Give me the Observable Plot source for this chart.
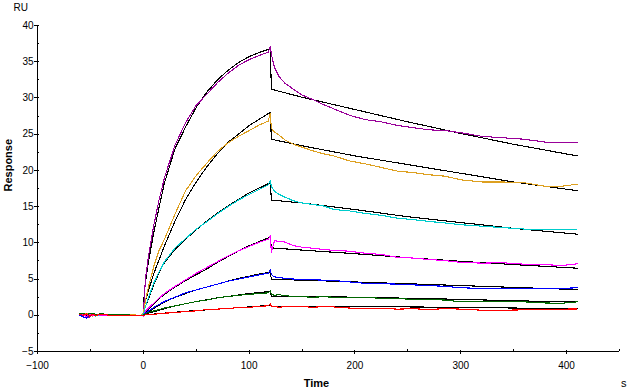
<!DOCTYPE html>
<html>
<head>
<meta charset="utf-8">
<script src="https://cdn.jsdelivr.net/npm/d3@7"></script>
<script src="https://cdn.jsdelivr.net/npm/@observablehq/plot@0.6"></script>
<style>
  html, body { margin: 0; padding: 0; background: #fff; }
</style>
</head>
<body>
<div id="chart"></div>
<script>
// ---- time grids (s) ----
const tData = [-60,-57,-54,-51,-48,-45,-40,-30,-20,-10,-2,0,
  2,5,10,15,20,30,40,50,60,70,80,90,100,110,118,120,
  121,124,128,134,142,150,160,170,180,195,210,225,240,255,270,285,300,320,340,360,380,395,410];
const tFit = [-60,0,1,5,10,15,20,30,40,50,60,70,80,90,100,110,120,121,150,200,250,300,350,410];

// ---- measured responses (RU) ----
const purpleObs = [0.1,0.3,-0.1,-0.3,0.2,0.0,0.1,0.0,0.05,0.0,0.0,0.2,
  5.0,8.3,12.5,16.0,19.0,23.5,26.6,29.0,30.5,32.1,33.4,34.5,35.3,35.9,36.3,37.1,
  36.0,34.2,33.0,32.0,31.2,30.4,29.8,29.1,28.5,27.6,27.0,26.7,26.2,25.9,25.6,25.5,25.2,24.7,24.5,24.3,23.9,23.8,23.9];
const orangeObs = [0.2,0.0,0.3,0.1,-0.1,0.1,0.0,0.1,0.0,0.05,0.0,0.3,
  2.0,4.0,6.8,9.0,10.5,14.0,17.2,19.3,21.0,22.6,23.8,24.7,25.5,26.3,26.8,27.9,
  25.8,25.3,24.9,24.2,23.6,23.2,22.7,22.3,22.0,21.3,20.9,20.4,19.9,19.7,19.4,19.2,18.7,18.4,18.4,18.3,17.8,17.8,18.1];
const cyanObs = [0.1,0.0,0.2,0.0,0.1,-0.1,0.1,0.0,0.1,0.0,0.0,0.1,
  1.2,2.5,4.5,6.0,7.4,9.3,10.6,11.9,12.9,14.0,15.0,15.9,16.7,17.4,18.0,18.6,
  17.8,17.1,16.7,16.3,15.8,15.5,15.3,15.1,14.6,14.4,14.05,13.8,13.4,13.2,12.95,12.75,12.5,12.3,12.1,11.9,11.8,11.8,11.9];
const magentaObs = [0.0,0.2,-0.2,0.1,0.0,0.1,0.0,0.0,0.1,0.0,0.0,-0.1,
  0.6,1.0,1.7,2.4,3.0,4.0,4.9,5.8,6.6,7.4,8.2,8.9,9.5,10.1,10.5,11.0,
  8.7,10.3,10.2,10.1,9.6,9.4,9.25,9.1,8.95,8.85,8.55,8.4,8.0,7.9,7.7,7.55,7.3,7.2,7.25,7.05,7.0,6.85,7.1];
const blueObs = [0.0,-0.2,-0.4,-0.1,0.1,0.0,0.1,0.0,-0.05,0.0,0.0,0.0,
  0.3,0.6,1.1,1.5,1.9,2.5,3.1,3.5,3.9,4.3,4.7,5.0,5.3,5.6,5.8,6.3,
  5.6,5.3,5.2,5.1,5.0,4.95,4.9,4.85,4.8,4.6,4.4,4.35,4.3,4.2,4.1,4.0,3.8,3.7,3.7,3.75,3.65,3.7,3.8];
const greenObs = [0.2,0.3,0.1,0.2,0.3,0.1,0.2,0.1,0.1,0.0,0.0,0.0,
  0.2,0.4,0.6,0.8,1.0,1.3,1.6,1.9,2.1,2.4,2.6,2.75,2.9,3.0,3.1,3.4,
  2.9,2.75,2.85,2.7,2.6,2.55,2.5,2.55,2.5,2.4,2.45,2.35,2.3,2.2,2.2,2.1,1.85,1.9,1.85,1.85,1.7,1.65,1.85];
const redObs = [0.1,0.0,0.2,-0.1,0.1,0.0,0.1,0.0,0.0,0.0,0.0,0.0,
  0.05,0.1,0.15,0.2,0.3,0.35,0.55,0.6,0.8,0.85,0.95,1.05,1.1,1.25,1.3,1.6,
  1.2,1.25,1.1,1.2,1.15,1.2,1.1,1.2,1.15,1.0,0.9,0.95,0.85,0.9,0.8,0.92,0.85,0.7,0.7,0.75,0.8,0.85,0.87];

// ---- fitted responses (RU) ----
const purpleFit  = [0,0,3.5,7.5,11.5,15.0,18.3,23.0,26.0,28.7,30.8,32.5,33.8,34.9,35.7,36.3,36.8,31.2,30.1,28.4,26.7,25.1,23.6,22.0];
const orangeFit  = [0,0,1.5,3.5,5.8,7.7,9.6,13.0,16.0,18.4,20.5,22.3,23.9,25.0,26.2,27.1,28.0,24.3,23.4,22.0,20.8,19.6,18.4,17.2];
const cyanFit    = [0,0,0.8,2.3,4.3,5.9,7.3,9.1,10.5,11.8,13.0,14.1,15.1,16.0,16.9,17.6,18.3,15.9,15.5,14.6,13.6,12.8,12.0,11.2];
const magentaFit = [0,0,0.3,0.9,1.6,2.3,2.9,3.9,4.8,5.6,6.4,7.3,8.1,8.9,9.6,10.2,10.8,9.3,9.0,8.5,7.95,7.45,7.0,6.5];
const blueFit    = [0,0,0.15,0.5,0.95,1.4,1.8,2.5,3.0,3.5,3.9,4.3,4.7,5.1,5.4,5.7,5.95,4.95,4.85,4.6,4.35,4.1,3.85,3.55];
const greenFit   = [0,0,0.1,0.3,0.5,0.7,0.9,1.3,1.6,1.9,2.15,2.4,2.6,2.8,3.0,3.15,3.3,2.65,2.6,2.5,2.35,2.2,2.0,1.85];
const redFit     = [0,0,0.03,0.1,0.17,0.24,0.3,0.42,0.55,0.65,0.75,0.85,0.95,1.05,1.15,1.27,1.4,1.25,1.23,1.2,1.15,1.1,1.0,0.92];

const seriesColors = ["#990099","#DDA020","#00CCCC","#FF00FF","#0000FF","#006600","#FF0000"];
const obsList = [purpleObs, orangeObs, cyanObs, magentaObs, blueObs, greenObs, redObs];
const fitList = [purpleFit, orangeFit, cyanFit, magentaFit, blueFit, greenFit, redFit];

// ---- axes ----
const xMajor = [-100,0,100,200,300,400];
const xMinor = [-50,50,150,250,350,450];
const yMajor = [-5,0,5,10,15,20,25,30,35,40];
const yMinor = [-2.5,2.5,7.5,12.5,17.5,22.5,27.5,32.5,37.5];
const xDomain = [-100,450];
const yDomain = [-5,40];

const fitRows = fitList.flatMap((vals, s) => vals.map((v, i) => ({t: tFit[i], v, s})));
const obsRows = obsList.flatMap((vals, s) => vals.map((v, i) => ({t: tData[i], v, s})));

const chart = Plot.plot({
  width: 631,
  height: 390,
  marginLeft: 37,
  marginRight: 12,
  marginTop: 25,
  marginBottom: 39,
  style: {fontFamily: "'Liberation Sans', Arial, sans-serif", fontSize: "10px", color: "#000", background: "#fff"},
  x: {domain: xDomain},
  y: {domain: yDomain},
  color: {domain: d3.range(seriesColors.length), range: seriesColors},
  marks: [
    // fitted curves
    Plot.line(fitRows, {x: "t", y: "v", z: "s", stroke: "#000", strokeWidth: 1.1, shapeRendering: "crispEdges"}),
    // measured curves
    Plot.line(obsRows, {x: "t", y: "v", z: "s", stroke: "s", strokeWidth: 1.1, shapeRendering: "crispEdges"}),
    // axis lines
    Plot.ruleX([xDomain[0]], {stroke: "#000", shapeRendering: "crispEdges"}),
    Plot.ruleY([yDomain[0]], {stroke: "#000", shapeRendering: "crispEdges"}),
    // y ticks
    Plot.axisY(yMajor, {tickSize: 5, dx: 2, fill: "none", stroke: "#000", shapeRendering: "crispEdges"}),
    Plot.axisY(yMinor, {tickSize: 2, dx: 2, fill: "none", stroke: "#000", shapeRendering: "crispEdges"}),
    Plot.axisY(yMajor, {tickSize: 0, tickPadding: 4, label: null, fill: "#000"}),
    // x ticks
    Plot.axisX(xMajor, {tickSize: 4, dy: -1, fill: "none", stroke: "#000", shapeRendering: "crispEdges"}),
    Plot.axisX(xMinor, {tickSize: 2, dy: -2, fill: "none", stroke: "#000", shapeRendering: "crispEdges"}),
    Plot.axisX(xMajor, {tickSize: 0, tickPadding: 10, label: null, fill: "#000"}),
    // titles
    Plot.text(["RU"], {frameAnchor: "top-left", dx: -24, dy: -18, textAnchor: "start", lineAnchor: "middle", fontSize: 10, fill: "#000"}),
    Plot.text(["Response"], {frameAnchor: "left", dx: -29, dy: 3, rotate: -90, lineAnchor: "middle", fontSize: 11, fontWeight: "bold", fill: "#000"}),
    Plot.text(["Time"], {frameAnchor: "bottom", dx: -12, dy: 32, lineAnchor: "middle", fontSize: 11, fontWeight: "bold", fill: "#000"}),
    Plot.text(["s"], {frameAnchor: "bottom-right", dx: 7, dy: 32, lineAnchor: "middle", fontSize: 11, fill: "#000"})
  ]
});
document.getElementById("chart").appendChild(chart);
</script>
</body>
</html>
